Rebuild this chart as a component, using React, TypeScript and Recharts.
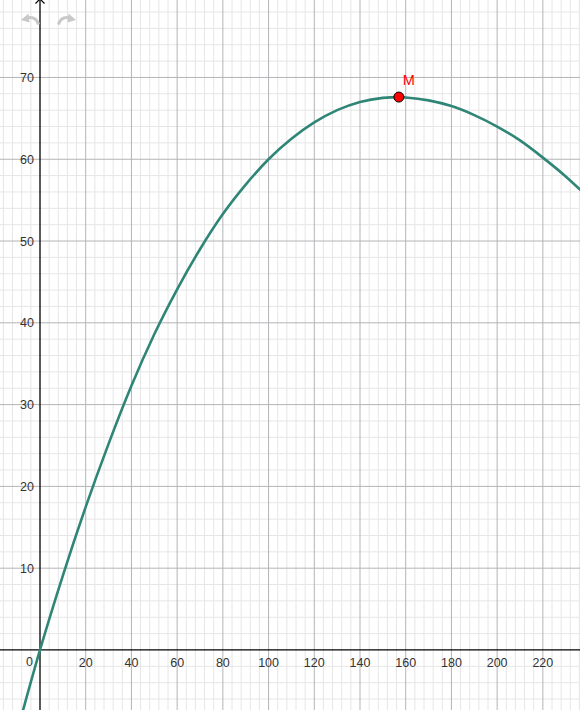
import React from "react";
import {
  ComposedChart,
  Line,
  Scatter,
  XAxis,
  YAxis,
  ReferenceLine,
} from "recharts";

// ---- data ----
const curveX = [-10, 0, 10, 20, 30, 40, 50, 60, 70, 80, 90, 100, 110, 120, 130, 140, 150, 157, 160, 170, 180, 190, 200, 210, 220, 230, 240];
const curveY = [-10.0, 0, 9.1, 17.5, 25.2, 32.3, 38.6, 44.1, 49.0, 53.3, 56.9, 60.0, 62.5, 64.5, 66.0, 67.0, 67.5, 67.6, 67.55, 67.2, 66.5, 65.4, 64.0, 62.3, 60.2, 57.9, 55.3];

const pointM = { x: 157, y: 67.6, name: "M" };

const xTickLabels = [20, 40, 60, 80, 100, 120, 140, 160, 180, 200, 220];
const yTickLabels = [10, 20, 30, 40, 50, 60, 70];

const X_DOMAIN: [number, number] = [-17.5, 236.25];
const Y_DOMAIN: [number, number] = [-7.34, 79.47];

const range = (a: number, b: number, s: number) => {
  const out: number[] = [];
  for (let v = a; v <= b + 1e-9; v += s) out.push(Math.round(v * 1000) / 1000);
  return out;
};
const xMinorTicks = range(-16, 236, 4).filter((v) => v % 20 !== 0);
const yMinorTicks = range(-6, 78, 2).filter((v) => v % 10 !== 0);
const xMajorTicks = range(20, 220, 20);
const yMajorTicks = range(10, 70, 10);

const curveData = curveX.map((x, i) => ({ x, y: curveY[i] }));
const xLabelData = xTickLabels.map((v) => ({ x: v, y: 0, label: String(v) }));
const yLabelData = yTickLabels.map((v) => ({ x: 0, y: v, label: String(v) }));
const originData = [{ x: 0, y: 0, label: "0" }];

const FONT = "'Liberation Sans', Arial, Helvetica, sans-serif";
const CURVE = "#2f8676";
const MINOR = "#e6e6e6";
const MAJOR = "#b4b4b8";

const XLabel = (p: any) => (
  <text x={p.cx} y={p.cy + 17} textAnchor="middle" fontSize={12.5} fontFamily={FONT} fill="#333">
    {p.payload.label}
  </text>
);
const YLabel = (p: any) => (
  <text x={p.cx - 6} y={p.cy + 4.5} textAnchor="end" fontSize={12.5} fontFamily={FONT} fill="#333">
    {p.payload.label}
  </text>
);
const OriginLabel = (p: any) => (
  <text x={p.cx - 10.5} y={p.cy + 16} textAnchor="middle" fontSize={12.5} fontFamily={FONT} fill="#333">
    {p.payload.label}
  </text>
);
const MPoint = (p: any) => (
  <g>
    <circle cx={p.cx} cy={p.cy} r={5} fill="#ff0000" stroke="#000" strokeWidth={1} />
    <text x={p.cx + 4} y={p.cy - 12} fontSize={14.5} fontFamily={FONT} fill="#ff0000">
      {p.payload.name}
    </text>
  </g>
);

export default function App() {
  return (
    <div style={{ position: "absolute", left: 0, top: 0, width: 580, height: 710, background: "#fff", overflow: "hidden" }}>
      <ComposedChart width={580} height={710} margin={{ top: 0, right: 0, bottom: 0, left: 0 }}>
        <XAxis type="number" dataKey="x" domain={X_DOMAIN} allowDataOverflow hide />
        <YAxis type="number" dataKey="y" domain={Y_DOMAIN} allowDataOverflow hide />
        {xMinorTicks.map((v) => (
          <ReferenceLine key={"xm" + v} x={v} stroke={MINOR} strokeWidth={1} />
        ))}
        {yMinorTicks.map((v) => (
          <ReferenceLine key={"ym" + v} y={v} stroke={MINOR} strokeWidth={1} />
        ))}
        {xMajorTicks.map((v) => (
          <ReferenceLine key={"xM" + v} x={v} stroke={MAJOR} strokeWidth={1} />
        ))}
        {yMajorTicks.map((v) => (
          <ReferenceLine key={"yM" + v} y={v} stroke={MAJOR} strokeWidth={1} />
        ))}
        <ReferenceLine x={0} stroke="#000" strokeWidth={1.3} />
        <ReferenceLine y={0} stroke="#000" strokeWidth={1.3} />
        <Line data={curveData} dataKey="y" type="monotone" stroke={CURVE} strokeWidth={2.6} dot={false}
          isAnimationActive={false} />
        <Scatter data={xLabelData} dataKey="y" shape={XLabel} isAnimationActive={false} />
        <Scatter data={yLabelData} dataKey="y" shape={YLabel} isAnimationActive={false} />
        <Scatter data={originData} dataKey="y" shape={OriginLabel} isAnimationActive={false} />
        <Scatter data={[pointM]} dataKey="y" shape={MPoint} isAnimationActive={false} />
      </ComposedChart>
      <svg width={580} height={710} style={{ position: "absolute", left: 0, top: 0, pointerEvents: "none" }}>
        <polyline points="35.5,3.5 40,-1 44.5,3.5" fill="none" stroke="#000" strokeWidth={1.2} />
        <g fill="none" stroke="#c9c9c9" strokeWidth={3} strokeLinecap="butt">
          <path d="M 38.5 24.5 Q 36 15.5 26 18" />
          <path d="M 58.5 24.5 Q 61 15.5 71 18" />
        </g>
        <g fill="#c9c9c9">
          <polygon points="21,20 28.5,13.5 29.5,22.5" />
          <polygon points="76,20 68.5,13.5 67.5,22.5" />
        </g>
      </svg>
    </div>
  );
}
